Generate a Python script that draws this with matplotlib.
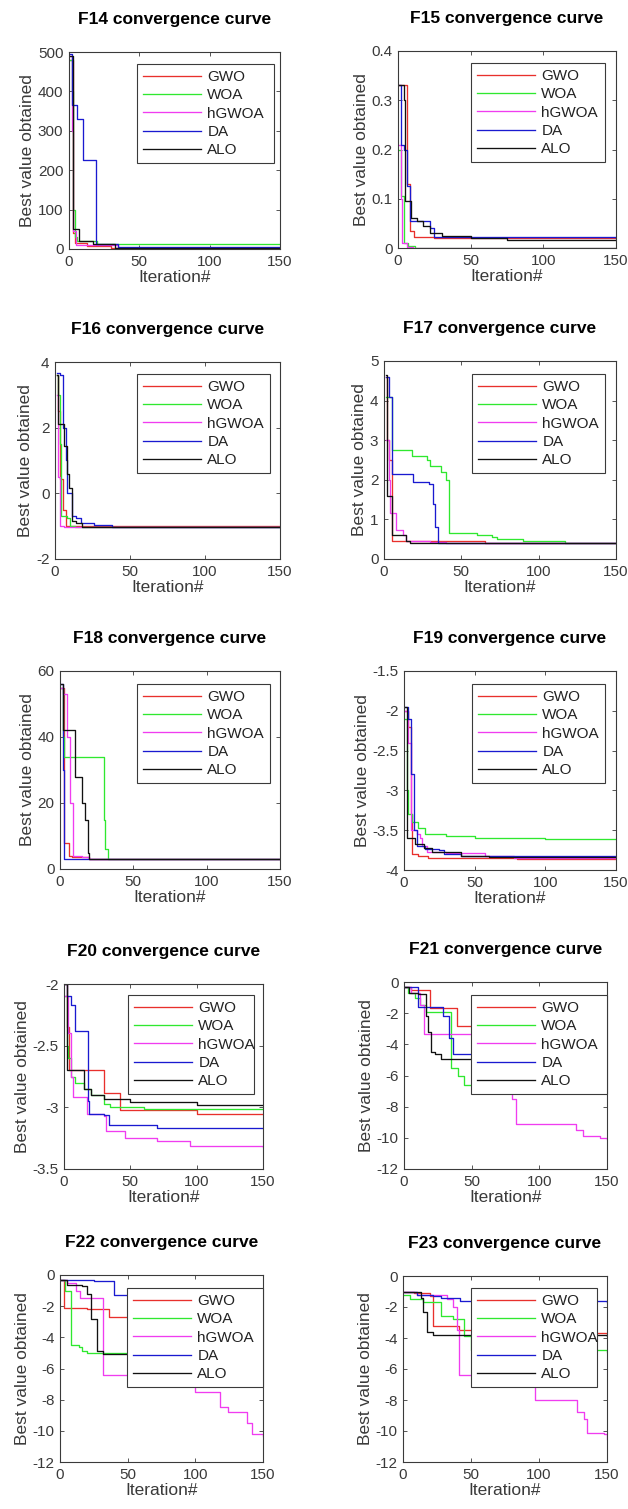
import matplotlib
matplotlib.use('Agg')
import matplotlib.pyplot as plt

plt.rcParams['font.family'] = ['Liberation Sans', 'DejaVu Sans']

W, H = 628, 1509

algorithms = ['GWO', 'WOA', 'hGWOA', 'DA', 'ALO']
titles = ['F14', 'F15', 'F16', 'F17', 'F18', 'F19', 'F20', 'F21', 'F22', 'F23']
x_ticks = [0, 50, 100, 150]

# ---- data: (iteration change points, best value) step series ----
f14_gwo = ([1, 3, 4, 13, 30, 150], [480, 40, 15, 7, 2, 2])
f14_woa = ([1, 2, 3, 4, 6, 20, 150], [480, 400, 100, 30, 20, 13, 13])
f14_hgwoa = ([1, 2, 3, 5, 35, 150], [490, 300, 45, 10, 3, 3])
f14_da = ([1, 2, 6, 10, 19.5, 35, 150], [495, 365, 330, 225, 12, 4, 4])
f14_alo = ([1, 3, 7, 17, 33, 150], [490, 50, 20, 12, 2, 2])

f15_gwo = ([1, 4.5, 6, 8, 11, 25, 150], [0.33, 0.33, 0.13, 0.035, 0.022, 0.02, 0.02])
f15_woa = ([1, 2, 4, 7, 12, 150], [0.2, 0.105, 0.01, 0.004, 0.001, 0.0005])
f15_hgwoa = ([1, 2, 3, 6, 10, 150], [0.21, 0.1, 0.01, 0.003, 0.0005, 0.0005])
f15_da = ([1, 2.3, 4, 6, 8, 22, 25, 150], [0.33, 0.21, 0.2, 0.125, 0.055, 0.04, 0.022, 0.02])
f15_alo = ([1, 4, 5, 9, 13, 17, 22, 30, 50, 75, 150],
           [0.33, 0.3, 0.095, 0.06, 0.055, 0.045, 0.03, 0.025, 0.02, 0.017, 0.017])

f16_gwo = ([1, 2, 3, 5, 7, 150], [3.6, 2.5, 0.45, -0.5, -1.0, -1.03])
f16_woa = ([1, 2, 3, 4, 8, 10, 13, 150], [3.6, 3.0, 1.5, -0.7, -0.75, -1.0, -1.03, -1.03])
f16_hgwoa = ([1, 2, 3, 6, 150], [3.0, 0.5, -1.0, -1.03, -1.03])
f16_da = ([1, 3, 5, 7, 8, 11, 14, 17, 26, 38, 150],
          [3.65, 3.6, 2.0, 1.0, 0.0, -0.7, -0.75, -0.9, -0.95, -1.03, -1.03])
f16_alo = ([1, 2, 6, 8, 9, 11, 14, 18, 150], [3.6, 2.1, 1.45, 0.6, 0.15, -0.85, -0.9, -1.03, -1.03])

f17_gwo = ([1, 2, 3, 5, 65, 150], [4.6, 3.0, 2.5, 0.45, 0.4, 0.4])
f17_woa = ([1, 5, 18, 28, 30, 37, 40, 42, 60, 70, 73, 90, 117, 150],
           [4.1, 2.75, 2.6, 2.5, 2.35, 2.2, 2.0, 0.65, 0.6, 0.55, 0.5, 0.45, 0.4, 0.4])
f17_hgwoa = ([1, 3, 4, 8, 12, 14, 30, 40, 150], [3.0, 2.0, 1.15, 0.72, 0.6, 0.45, 0.42, 0.4, 0.4])
f17_da = ([1, 3, 5, 19, 29, 32, 33, 35, 150], [4.6, 4.1, 2.15, 1.95, 1.9, 1.4, 0.8, 0.4, 0.4])
f17_alo = ([1, 2, 5, 14, 17, 150], [4.65, 1.6, 0.6, 0.45, 0.4, 0.4])

f18_gwo = ([1, 3, 6, 8, 20, 70, 150], [55, 8, 4, 3.5, 3.1, 3.0, 3.0])
f18_woa = ([1, 2, 3, 30, 31, 33, 150], [55, 40, 34, 15, 6, 3, 3])
f18_hgwoa = ([1, 2, 5, 7, 9, 15, 20, 150], [55, 53, 40, 20, 4, 3.5, 3, 3])
f18_da = ([1, 2, 3, 150], [56, 30, 3, 3])
f18_alo = ([1, 2, 10, 15, 17, 19, 20, 150], [56, 42, 28, 20, 15, 5, 3, 3])

f19_gwo = ([1, 3, 5, 6, 10, 17, 80, 150], [-2.0, -2.2, -3.3, -3.8, -3.82, -3.85, -3.86, -3.86])
f19_woa = ([1, 2, 3, 6, 10, 15, 30, 50, 100, 150],
           [-2.1, -3.0, -3.3, -3.4, -3.47, -3.55, -3.57, -3.6, -3.61, -3.61])
f19_hgwoa = ([1, 3, 5, 9, 11, 13, 16, 30, 57, 78, 150],
             [-2.0, -2.4, -3.5, -3.55, -3.6, -3.7, -3.78, -3.79, -3.83, -3.85, -3.85])
f19_da = ([1, 3, 5, 7, 9, 15, 25, 28, 40, 150],
          [-1.95, -2.1, -2.8, -3.5, -3.7, -3.73, -3.75, -3.8, -3.82, -3.84])
f19_alo = ([1, 2, 8, 14, 20, 40, 60, 150], [-1.95, -3.6, -3.67, -3.72, -3.77, -3.82, -3.84, -3.84])

f20_gwo = ([1, 2, 4, 30, 42, 100, 150], [-2.0, -2.35, -2.7, -2.88, -3.02, -3.05, -3.05])
f20_woa = ([1, 2, 3, 5, 8, 15, 20, 30, 35, 60, 150],
           [-2.1, -2.5, -2.6, -2.75, -2.8, -2.85, -2.9, -2.97, -3.0, -3.01, -3.01])
f20_hgwoa = ([1, 3, 5, 7, 17, 30, 32, 46, 70, 95, 150],
             [-2.1, -2.4, -2.75, -2.92, -3.05, -3.07, -3.19, -3.25, -3.27, -3.31, -3.32])
f20_da = ([1, 2, 5, 8, 18, 19, 30, 34, 70, 150],
          [-2.0, -2.1, -2.17, -2.38, -2.95, -3.05, -3.06, -3.14, -3.17, -3.17])
f20_alo = ([1, 2, 15, 20, 30, 50, 100, 150], [-2.0, -2.7, -2.85, -2.9, -2.93, -2.96, -2.98, -2.98])

f21_gwo = ([1, 5, 19, 39, 100, 140, 145, 150], [-0.3, -0.5, -1.7, -2.85, -3.5, -4.3, -4.6, -5.1])
f21_woa = ([1, 3, 8, 12, 16, 35, 40, 44, 150], [-0.3, -0.7, -1.0, -1.5, -1.95, -5.5, -6.0, -6.6, -6.8])
f21_hgwoa = ([1, 5, 12, 15, 65, 80, 83, 127, 132, 145, 150],
             [-0.3, -0.7, -1.5, -3.35, -6.5, -7.5, -9.1, -9.5, -9.9, -10.0, -10.1])
f21_da = ([1, 10, 29, 33, 36, 50, 100, 150], [-0.3, -1.6, -2.2, -3.6, -4.6, -4.75, -5.0, -5.05])
f21_alo = ([1, 4, 10, 16, 18, 20, 23, 27, 100, 150], [-0.3, -0.7, -0.8, -2.2, -3.2, -4.5, -4.6, -4.95, -5.05, -5.1])

f22_gwo = ([1, 3, 20, 36, 50, 100, 150], [-0.3, -2.1, -2.2, -2.7, -3.1, -3.5, -3.75])
f22_woa = ([1, 4, 8, 14, 16, 20, 150], [-0.3, -1.0, -4.5, -4.6, -4.9, -5.0, -5.1])
f22_hgwoa = ([1, 5, 12, 15, 30, 32, 100, 118, 124, 138, 142, 150],
             [-0.3, -0.5, -1.0, -1.45, -1.5, -6.4, -7.5, -8.5, -8.8, -9.5, -10.2, -10.3])
f22_da = ([1, 25, 40, 100, 150], [-0.3, -0.4, -1.3, -2.2, -2.7])
f22_alo = ([1, 5, 16, 20, 23, 27, 32, 150], [-0.3, -0.65, -0.7, -1.2, -2.8, -4.9, -5.1, -5.1])

f23_gwo = ([1, 8, 20, 22, 41, 100, 150], [-1.0, -1.1, -1.3, -3.2, -3.5, -3.7, -3.8])
f23_woa = ([1, 5, 15, 28, 37, 45, 50, 150], [-1.2, -1.5, -1.7, -2.6, -2.8, -3.9, -4.8, -4.9])
f23_hgwoa = ([1, 10, 32, 37, 40, 41, 95, 97, 128, 133, 135, 148, 150],
             [-1.0, -1.2, -1.5, -2.0, -3.5, -6.4, -7.0, -8.0, -8.8, -9.2, -10.1, -10.2, -10.5])
f23_da = ([1, 10, 22, 28, 42, 150], [-1.0, -1.2, -1.3, -1.4, -1.6, -1.7])
f23_alo = ([1, 13, 15, 18, 22, 150], [-1.0, -1.4, -2.3, -3.6, -3.8, -3.85])

y_limits = [(0, 500), (0, 0.4), (-2, 4), (0, 5), (0, 60), (-4, -1.5), (-3.5, -2),
            (-12, 0), (-12, 0), (-12, 0)]
y_ticks = [[0, 100, 200, 300, 400, 500], [0, 0.1, 0.2, 0.3, 0.4], [-2, 0, 2, 4],
           [0, 1, 2, 3, 4, 5], [0, 20, 40, 60], [-4, -3.5, -3, -2.5, -2, -1.5],
           [-3.5, -3, -2.5, -2], [-12, -10, -8, -6, -4, -2, 0],
           [-12, -10, -8, -6, -4, -2, 0], [-12, -10, -8, -6, -4, -2, 0]]
y_ticklabels = [['0', '100', '200', '300', '400', '500'], ['0', '0.1', '0.2', '0.3', '0.4'],
                ['-2', '0', '2', '4'], ['0', '1', '2', '3', '4', '5'], ['0', '20', '40', '60'],
                ['-4', '-3.5', '-3', '-2.5', '-2', '-1.5'], ['-3.5', '-3', '-2.5', '-2'],
                ['-12', '-10', '-8', '-6', '-4', '-2', '0'], ['-12', '-10', '-8', '-6', '-4', '-2', '0'],
                ['-12', '-10', '-8', '-6', '-4', '-2', '0']]

panels = [
    [f14_gwo, f14_woa, f14_hgwoa, f14_da, f14_alo],
    [f15_gwo, f15_woa, f15_hgwoa, f15_da, f15_alo],
    [f16_gwo, f16_woa, f16_hgwoa, f16_da, f16_alo],
    [f17_gwo, f17_woa, f17_hgwoa, f17_da, f17_alo],
    [f18_gwo, f18_woa, f18_hgwoa, f18_da, f18_alo],
    [f19_gwo, f19_woa, f19_hgwoa, f19_da, f19_alo],
    [f20_gwo, f20_woa, f20_hgwoa, f20_da, f20_alo],
    [f21_gwo, f21_woa, f21_hgwoa, f21_da, f21_alo],
    [f22_gwo, f22_woa, f22_hgwoa, f22_da, f22_alo],
    [f23_gwo, f23_woa, f23_hgwoa, f23_da, f23_alo],
]

# ---- layout (pixels: left, top, right, bottom) ----
axes_px = [(69, 52, 280, 249), (398, 51, 616, 248),
           (55, 362, 280, 559), (384, 361, 616, 559),
           (60, 671, 280, 869), (404, 671, 616, 870),
           (64, 984, 263, 1169), (404, 982, 607, 1169),
           (60, 1275, 263, 1462), (403, 1276, 607, 1462)]
legend_px = [(137, 64, 274, 178), (471, 63, 605, 177),
             (137, 374, 270, 487), (472, 374, 605, 488),
             (137, 684, 270, 797), (472, 684, 605, 798),
             (128, 995, 254, 1102), (471, 995, 607, 1102),
             (127, 1288, 263, 1395), (471, 1288, 597, 1395)]

colors = ['#e8302c', '#2fe82f', '#f03cf0', '#1a1ad0', '#111111']
frame_col = '#3a3a3a'

fig = plt.figure(figsize=(W / 100, H / 100), dpi=100)

for i in range(10):
    l, t, r, b = axes_px[i]
    ax = fig.add_axes([l / W, 1 - b / H, (r - l) / W, (b - t) / H])
    for (xs, ys), name, c in zip(panels[i], algorithms, colors):
        ax.step(xs, ys, where='post', color=c, lw=0.95, label=name)
    ax.set_xlim(0, 150)
    ax.set_ylim(*y_limits[i])
    ax.set_xticks(x_ticks)
    ax.set_yticks(y_ticks[i])
    ax.set_yticklabels(y_ticklabels[i])
    ax.tick_params(direction='in', length=3, width=0.6, top=True, right=True,
                   labelsize=11, colors=frame_col, pad=4)
    for s in ax.spines.values():
        s.set_color(frame_col)
        s.set_linewidth(0.8)
    ax.set_title(titles[i] + ' convergence curve', fontsize=12.5, fontweight='bold', pad=20.5)
    ax.set_xlabel('Iteration#', fontsize=12.5, color=frame_col, labelpad=1)
    ax.set_ylabel('Best value obtained', fontsize=12.5, color=frame_col, labelpad=2)
    lx0, ly0, lx1, ly1 = legend_px[i]
    leg = ax.legend(loc='upper left',
                    bbox_to_anchor=(lx0 / W, 1 - ly1 / H, (lx1 - lx0) / W, (ly1 - ly0) / H),
                    bbox_transform=fig.transFigure, mode='expand', borderaxespad=0,
                    fontsize=11, handlelength=3.8, handletextpad=0.4,
                    labelspacing=0.28, borderpad=0.4, fancybox=False, framealpha=1,
                    edgecolor=frame_col)
    leg.get_frame().set_linewidth(0.8)
    for txt in leg.get_texts():
        txt.set_color('#222222')

fig.savefig('out.png', dpi=100)
